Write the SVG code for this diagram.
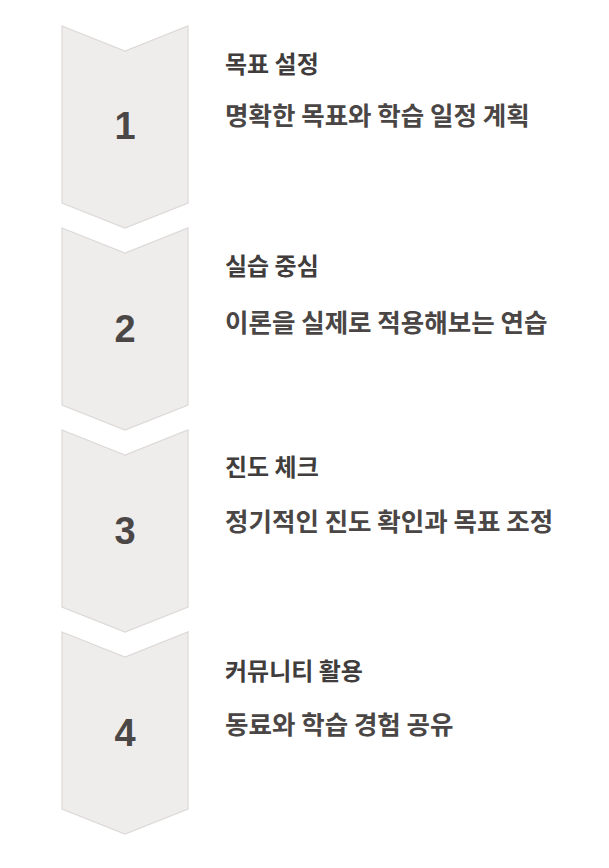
<svg xmlns="http://www.w3.org/2000/svg" width="609" height="868" viewBox="0 0 609 868">
<style>
.chev{fill:#efedec;stroke:#dcd9d8;stroke-width:1.2}
.num{font-family:"Liberation Sans",Arial,sans-serif;font-weight:bold;font-size:38px;fill:#4a4746;text-anchor:middle}
.title{font-family:"Noto Sans CJK KR","Noto Sans",sans-serif;font-weight:bold;font-size:24px;fill:#403d3c}
.sub{font-family:"Noto Sans CJK KR","Noto Sans",sans-serif;font-weight:bold;font-size:25.5px;fill:#4a4645}
</style>
<rect width="609" height="868" fill="#ffffff"/>
<g id="step1">
<polygon class="chev" points="62,26 125,51 188,26 188,203 125,228 62,203"/>
<text class="num" x="125" y="139">1</text>
<text class="title" x="225" y="73">목표 설정</text>
<text class="sub" x="225" y="125">명확한 목표와 학습 일정 계획</text>
</g>
<g id="step2">
<polygon class="chev" points="62,228 125,253 188,228 188,405 125,430 62,405"/>
<text class="num" x="125" y="342">2</text>
<text class="title" x="225" y="275">실습 중심</text>
<text class="sub" x="225" y="332">이론을 실제로 적용해보는 연습</text>
</g>
<g id="step3">
<polygon class="chev" points="62,430 125,455 188,430 188,607 125,632 62,607"/>
<text class="num" x="125" y="544">3</text>
<text class="title" x="225" y="476">진도 체크</text>
<text class="sub" x="225" y="531">정기적인 진도 확인과 목표 조정</text>
</g>
<g id="step4">
<polygon class="chev" points="62,632 125,657 188,632 188,809 125,834 62,809"/>
<text class="num" x="125" y="746">4</text>
<text class="title" x="225" y="680">커뮤니티 활용</text>
<text class="sub" x="225" y="734">동료와 학습 경험 공유</text>
</g>
<g id="connectors"></g>
</svg>
